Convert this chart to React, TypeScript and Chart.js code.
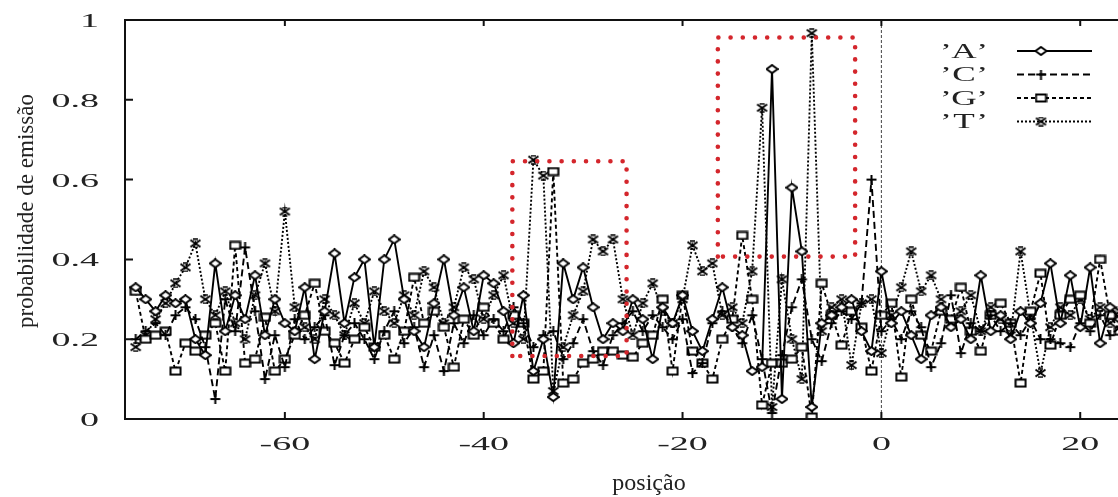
import { useEffect, useRef } from "react";
import { Chart, registerables } from "chart.js";

Chart.register(...registerables);

const WIDTH = 1118;
const HEIGHT = 497;

// sequence positions relative to the site (one point per position)
const POSITIONS = Array.from({ length: 101 }, (_, i) => i - 75);

// emission probabilities, positions -75 .. 25
const A_VALUES = [
  0.33, 0.30, 0.27, 0.31, 0.29, 0.30, 0.20, 0.16, 0.39, 0.22,
  0.31, 0.25, 0.36, 0.21, 0.30, 0.24, 0.22, 0.33, 0.15, 0.27,
  0.415, 0.24, 0.355, 0.40, 0.18, 0.40, 0.45, 0.30, 0.22, 0.18,
  0.29, 0.40, 0.26, 0.33, 0.22, 0.36, 0.34, 0.27, 0.19, 0.31,
  0.12, 0.20, 0.055, 0.39, 0.30, 0.38, 0.28, 0.20, 0.24, 0.22,
  0.30, 0.25, 0.15, 0.28, 0.24, 0.31, 0.22, 0.17, 0.25, 0.33,
  0.23, 0.21, 0.12, 0.13, 0.877, 0.05, 0.58, 0.42, 0.03, 0.24,
  0.26, 0.28, 0.30, 0.22, 0.17, 0.37, 0.24, 0.27, 0.21, 0.15,
  0.26, 0.28, 0.23, 0.25, 0.20, 0.36, 0.22, 0.26, 0.20, 0.27,
  0.24, 0.29, 0.39, 0.24, 0.36, 0.23, 0.38, 0.19, 0.28, 0.25,
  0.30,
];

const C_VALUES = [
  0.20, 0.22, 0.24, 0.21, 0.26, 0.28, 0.25, 0.18, 0.05, 0.30,
  0.22, 0.43, 0.27, 0.10, 0.21, 0.13, 0.25, 0.20, 0.23, 0.26,
  0.135, 0.21, 0.24, 0.20, 0.15, 0.22, 0.27, 0.19, 0.23, 0.13,
  0.21, 0.12, 0.24, 0.19, 0.26, 0.21, 0.25, 0.22, 0.28, 0.24,
  0.18, 0.21, 0.22, 0.15, 0.19, 0.25, 0.17, 0.135, 0.21, 0.24,
  0.27, 0.22, 0.26, 0.23, 0.20, 0.25, 0.115, 0.14, 0.24, 0.27,
  0.23, 0.19, 0.26, 0.15, 0.015, 0.16, 0.28, 0.35, 0.20, 0.145,
  0.24, 0.27, 0.25, 0.29, 0.60, 0.22, 0.25, 0.20, 0.27, 0.23,
  0.13, 0.19, 0.31, 0.165, 0.24, 0.22, 0.26, 0.22, 0.24, 0.21,
  0.25, 0.20, 0.20, 0.19, 0.18, 0.24, 0.22, 0.26, 0.21, 0.23,
  0.25,
];

const G_VALUES = [
  0.32, 0.20, 0.21, 0.22, 0.12, 0.19, 0.17, 0.21, 0.24, 0.12,
  0.435, 0.14, 0.15, 0.255, 0.12, 0.15, 0.21, 0.26, 0.34, 0.22,
  0.19, 0.14, 0.20, 0.23, 0.18, 0.21, 0.15, 0.22, 0.355, 0.24,
  0.27, 0.23, 0.13, 0.25, 0.21, 0.28, 0.24, 0.20, 0.26, 0.24,
  0.10, 0.12, 0.62, 0.09, 0.10, 0.14, 0.15, 0.17, 0.17, 0.16,
  0.155, 0.19, 0.21, 0.30, 0.12, 0.31, 0.17, 0.14, 0.10, 0.20,
  0.25, 0.46, 0.30, 0.035, 0.14, 0.14, 0.15, 0.18, 0.005, 0.34,
  0.26, 0.185, 0.27, 0.23, 0.12, 0.26, 0.29, 0.105, 0.30, 0.21,
  0.17, 0.27, 0.25, 0.33, 0.22, 0.17, 0.26, 0.29, 0.24, 0.09,
  0.27, 0.365, 0.185, 0.26, 0.30, 0.31, 0.24, 0.40, 0.26, 0.22,
  0.28,
];

const T_VALUES = [
  0.18, 0.21, 0.25, 0.29, 0.34, 0.38, 0.44, 0.30, 0.26, 0.32,
  0.24, 0.20, 0.31, 0.39, 0.27, 0.52, 0.28, 0.23, 0.20, 0.30,
  0.26, 0.21, 0.29, 0.24, 0.32, 0.27, 0.24, 0.31, 0.26, 0.37,
  0.33, 0.24, 0.28, 0.38, 0.35, 0.25, 0.31, 0.36, 0.24, 0.20,
  0.65, 0.61, 0.07, 0.18, 0.26, 0.32, 0.45, 0.42, 0.45, 0.30,
  0.21, 0.29, 0.34, 0.27, 0.24, 0.30, 0.435, 0.37, 0.39, 0.26,
  0.28, 0.24, 0.37, 0.78, 0.03, 0.35, 0.20, 0.10, 0.967, 0.22,
  0.28, 0.30, 0.135, 0.29, 0.30, 0.165, 0.26, 0.33, 0.42, 0.32,
  0.36, 0.30, 0.24, 0.27, 0.31, 0.22, 0.28, 0.25, 0.21, 0.42,
  0.26, 0.115, 0.23, 0.28, 0.26, 0.30, 0.25, 0.28, 0.24, 0.27,
  0.26,
];

const SERIES_NAMES = ["’A’", "’C’", "’G’", "’T’"];
const SERIES_MARKERS = ["diamond", "plus", "square", "cross"];
const SERIES_DASHES: number[][] = [[], [7, 4], [4, 3], [2, 2]];

const Y_TICKS = [0, 0.2, 0.4, 0.6, 0.8, 1];
const X_TICKS = [-60, -40, -20, 0, 20];
const X_MIN = -76.08;
const X_MAX = 23.8;

// highlighted regions: [xFrom, xTo, yFrom, yTo]
const HIGHLIGHTS = [
  [-37.12, -25.63, 0.158, 0.646],
  [-16.45, -2.64, 0.407, 0.956],
];

const X_TITLE = "posição";
const Y_TITLE = "probabilidade de emissão";

const SERIF = '"Liberation Serif", "DejaVu Serif", serif';
const TEXT_COLOR = "#222";

function makeMarker(kind: string): HTMLCanvasElement {
  const w = 13;
  const h = 10;
  const c = document.createElement("canvas");
  c.width = w;
  c.height = h;
  const g = c.getContext("2d")!;
  g.strokeStyle = "#000";
  g.fillStyle = "#fff";
  g.lineWidth = 2;
  g.beginPath();
  if (kind === "diamond") {
    g.moveTo(w / 2, 1);
    g.lineTo(w - 1, h / 2);
    g.lineTo(w / 2, h - 1);
    g.lineTo(1, h / 2);
    g.closePath();
    g.fill();
    g.stroke();
  } else if (kind === "plus") {
    g.moveTo(w / 2, 0);
    g.lineTo(w / 2, h);
    g.moveTo(1.5, h / 2);
    g.lineTo(w - 1.5, h / 2);
    g.stroke();
  } else if (kind === "square") {
    g.rect(1.5, 1.5, w - 3, h - 3);
    g.fill();
    g.stroke();
  } else {
    g.moveTo(1.5, 1.5);
    g.lineTo(w - 1.5, h - 1.5);
    g.moveTo(w - 1.5, 1.5);
    g.lineTo(1.5, h - 1.5);
    g.stroke();
    g.lineWidth = 1.5;
    g.beginPath();
    g.moveTo(4, 1);
    g.lineTo(w - 4, 1);
    g.moveTo(4, h - 1);
    g.lineTo(w - 4, h - 1);
    g.stroke();
  }
  return c;
}

function stretchedText(
  ctx: CanvasRenderingContext2D,
  text: string,
  x: number,
  y: number,
  align: CanvasTextAlign,
  sx: number
) {
  ctx.save();
  ctx.translate(x, y);
  ctx.scale(sx, 1);
  ctx.textAlign = align;
  ctx.textBaseline = "alphabetic";
  ctx.fillText(text, 0, 0);
  ctx.restore();
}

const zeroLinePlugin = {
  id: "zeroLine",
  beforeDatasetsDraw(chart: any) {
    const { ctx, chartArea, scales } = chart;
    const x0 = scales.x.getPixelForValue(0);
    ctx.save();
    ctx.strokeStyle = "#444";
    ctx.lineWidth = 1;
    ctx.setLineDash([3, 2]);
    ctx.beginPath();
    ctx.moveTo(x0, chartArea.top);
    ctx.lineTo(x0, chartArea.bottom);
    ctx.stroke();
    ctx.restore();
  },
};

const framePlugin = {
  id: "plotFrame",
  afterDatasetsDraw(chart: any) {
    const { ctx, chartArea, scales } = chart;
    const { left, right, top, bottom } = chartArea;
    const xs = scales.x;
    const ys = scales.y;
    ctx.save();

    // dotted highlight rectangles
    ctx.strokeStyle = "#d4262c";
    ctx.lineWidth = 4.6;
    ctx.lineCap = "round";
    ctx.setLineDash([0, 12.2]);
    for (const [x0, x1, y0, y1] of HIGHLIGHTS) {
      const px0 = xs.getPixelForValue(x0);
      const px1 = xs.getPixelForValue(x1);
      const py0 = ys.getPixelForValue(y0);
      const py1 = ys.getPixelForValue(y1);
      ctx.beginPath();
      ctx.moveTo(px0, py0);
      ctx.lineTo(px0, py1);
      ctx.lineTo(px1, py1);
      ctx.lineTo(px1, py0);
      ctx.closePath();
      ctx.stroke();
    }

    // axes frame
    ctx.setLineDash([]);
    ctx.lineCap = "butt";
    ctx.strokeStyle = "#111";
    ctx.lineWidth = 2;
    ctx.beginPath();
    ctx.moveTo(right + 2, top);
    ctx.lineTo(left, top);
    ctx.lineTo(left, bottom);
    ctx.lineTo(right + 2, bottom);
    ctx.stroke();

    // inward tick marks
    ctx.beginPath();
    for (const v of Y_TICKS) {
      const py = ys.getPixelForValue(v);
      ctx.moveTo(left, py);
      ctx.lineTo(left + 8, py);
    }
    for (const v of X_TICKS) {
      const px = xs.getPixelForValue(v);
      ctx.moveTo(px, bottom);
      ctx.lineTo(px, bottom - 7);
      ctx.moveTo(px, top);
      ctx.lineTo(px, top + 6);
    }
    ctx.stroke();

    // tick labels
    ctx.fillStyle = TEXT_COLOR;
    ctx.font = `19px ${SERIF}`;
    for (const v of Y_TICKS) {
      const py = ys.getPixelForValue(v);
      stretchedText(ctx, String(v), left - 26, py + 7, "right", 2);
    }
    for (const v of X_TICKS) {
      const px = xs.getPixelForValue(v);
      stretchedText(ctx, String(v), px, 450, "center", 2);
    }

    // axis titles
    ctx.font = `24px ${SERIF}`;
    ctx.textAlign = "center";
    ctx.textBaseline = "alphabetic";
    ctx.fillText(X_TITLE, 649, 490);
    ctx.save();
    ctx.translate(33, 211);
    ctx.rotate(-Math.PI / 2);
    ctx.font = `23px ${SERIF}`;
    ctx.fillText(Y_TITLE, 0, 0);
    ctx.restore();

    // key
    const rowY = [50, 73.5, 97, 120.5];
    chart.data.datasets.forEach((ds: any, i: number) => {
      const name: string = ds.label;
      const cy = rowY[i];
      ctx.fillStyle = TEXT_COLOR;
      ctx.font = `22px ${SERIF}`;
      stretchedText(ctx, name.slice(0, 1), 940, cy + 7.5, "left", 1.6);
      stretchedText(ctx, name.slice(1, -1), 964, cy + 7.5, "center", 1.6);
      stretchedText(ctx, name.slice(-1), 988, cy + 7.5, "right", 1.6);
      ctx.strokeStyle = "#000";
      ctx.lineWidth = 1.9;
      ctx.setLineDash(ds.borderDash || []);
      ctx.beginPath();
      ctx.moveTo(1017, cy + 1);
      ctx.lineTo(1092, cy + 1);
      ctx.stroke();
      ctx.setLineDash([]);
      const m = ds.pointStyle as HTMLCanvasElement;
      ctx.drawImage(m, 1041 - m.width / 2, cy + 1 - m.height / 2);
    });

    ctx.restore();
  },
};

export default function App() {
  const canvasRef = useRef<HTMLCanvasElement | null>(null);

  useEffect(() => {
    const canvas = canvasRef.current;
    if (!canvas) return;
    const seriesValues = [A_VALUES, C_VALUES, G_VALUES, T_VALUES];
    const datasets = seriesValues.map((values, i) => ({
      label: SERIES_NAMES[i],
      data: POSITIONS.map((x, j) => ({ x, y: values[j] })),
      borderColor: "#000",
      borderWidth: 1.9,
      borderDash: SERIES_DASHES[i],
      pointStyle: makeMarker(SERIES_MARKERS[i]),
      pointRadius: 5,
      pointBorderColor: "#000",
      pointBackgroundColor: "#fff",
      tension: 0,
      fill: false,
    }));

    const chart = new Chart(canvas, {
      type: "line",
      data: { datasets },
      options: {
        responsive: false,
        animation: false,
        events: [],
        layout: { padding: { top: 20, right: 0, left: 0, bottom: 0 }, autoPadding: false },
        plugins: {
          legend: { display: false },
          tooltip: { enabled: false },
        },
        scales: {
          x: {
            type: "linear",
            min: X_MIN,
            max: X_MAX,
            grid: { display: false },
            border: { display: false },
            ticks: { display: false },
            afterFit: (s: any) => {
              s.height = 78;
            },
          },
          y: {
            min: 0,
            max: 1,
            grid: { display: false },
            border: { display: false },
            ticks: { display: false },
            afterFit: (s: any) => {
              s.width = 125;
            },
          },
        },
      },
      plugins: [zeroLinePlugin, framePlugin],
    } as any);

    return () => chart.destroy();
  }, []);

  return (
    <div
      style={{
        position: "fixed",
        left: 0,
        top: 0,
        width: WIDTH,
        height: HEIGHT,
        background: "#fff",
      }}
    >
      <canvas ref={canvasRef} width={WIDTH} height={HEIGHT} />
    </div>
  );
}
